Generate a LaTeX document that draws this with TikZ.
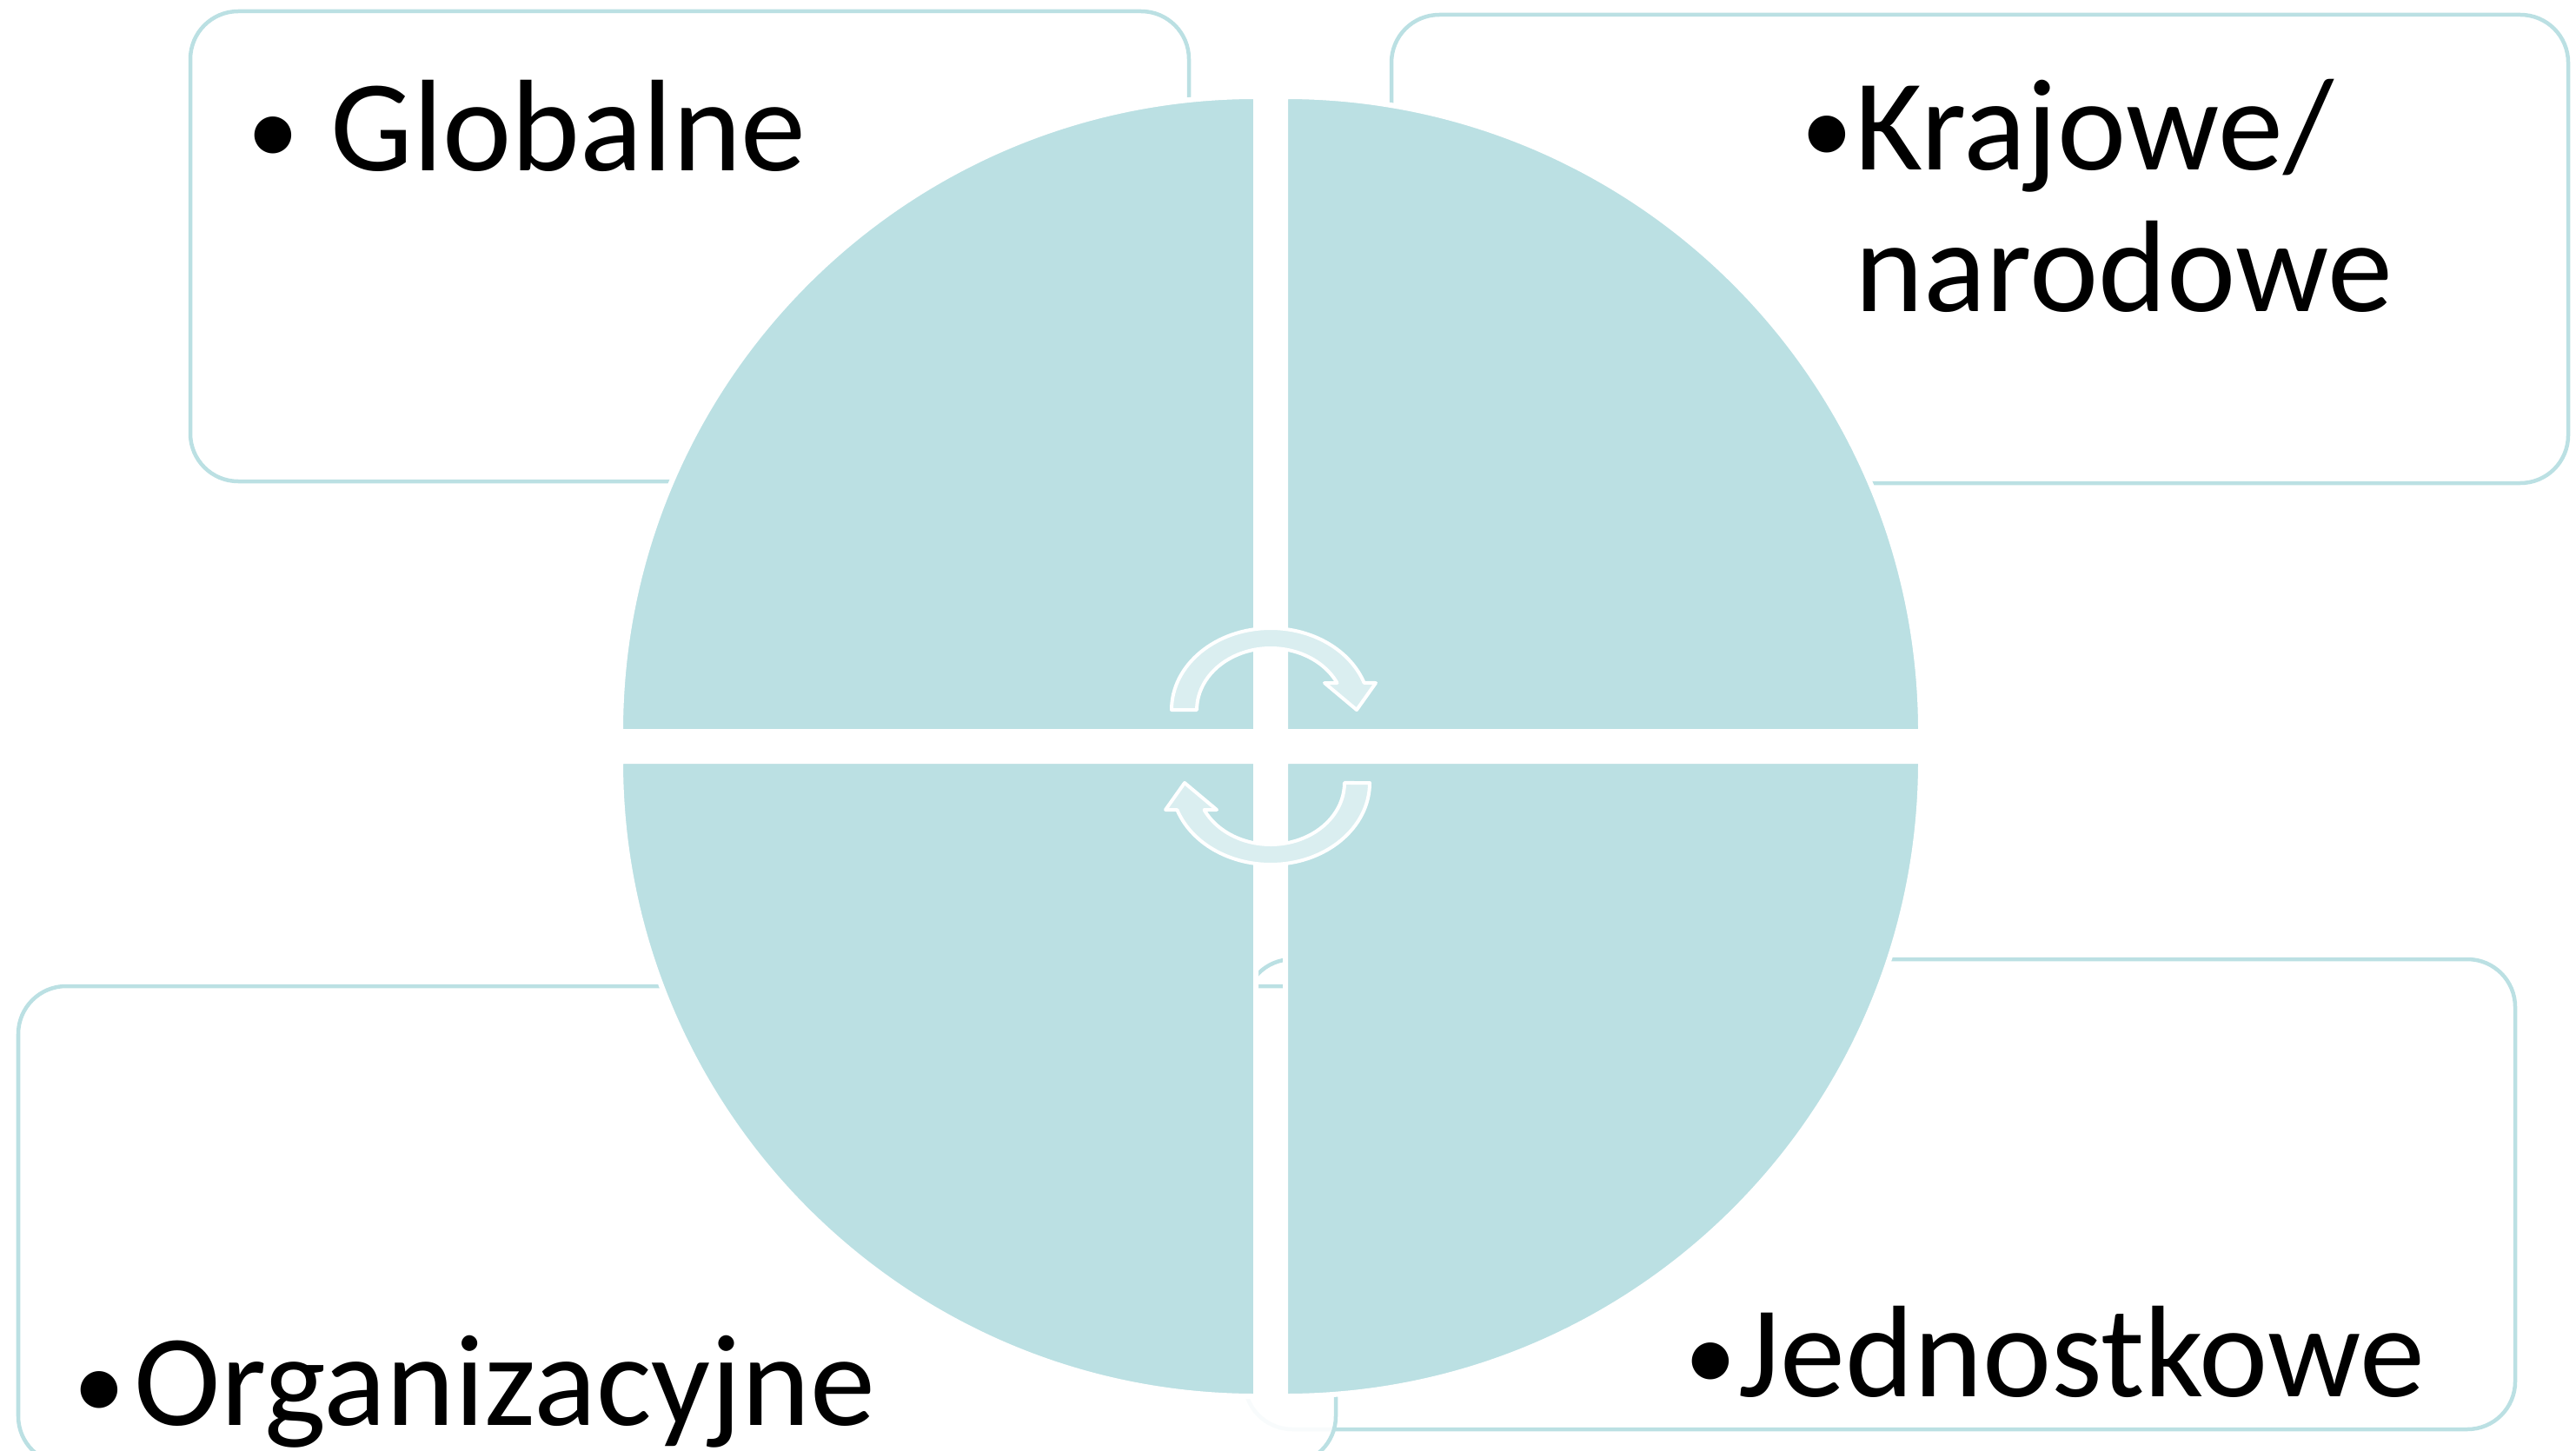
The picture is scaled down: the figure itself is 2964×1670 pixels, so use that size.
\documentclass[tikz,border=0pt]{standalone}
\usepackage{fontspec}
\setmainfont{Carlito}
\usepackage{graphicx}
\usepackage{xcolor}
\definecolor{quadfill}{HTML}{BBE0E3}
\definecolor{arrowfill}{HTML}{DAEEF0}
\definecolor{boxline}{HTML}{BBE0E3}
\newcommand{\bul}{\raisebox{0.07cm}{\scalebox{0.8}{•}}}

\begin{document}
\begin{tikzpicture}[x=0.01cm, y=-0.01cm,
  box/.style={draw=boxline, line width=0.045cm, rounded corners=0.55cm, fill=white},
  quad/.style={fill=quadfill, draw=white, line width=0.06cm},
  cyc/.style={fill=arrowfill, draw=white, line width=0.04cm, line join=round},
  lbl/.style={font=\fontsize{42.7pt}{46.6pt}\selectfont, inner sep=0pt,
              align=left, anchor=base west}]
\useasboundingbox (0,0) rectangle (2964,1670);

% boxes behind the circle
\draw[box] (219,13) rectangle (1368,554);
\draw[box] (1601,17) rectangle (2955,556);
\draw[box] (1432,1104) rectangle (2894,1645);
\draw[box, fill opacity=0.9] (21,1135) rectangle (1537,1685);

% four quarters
\foreach \qx/\qy/\a in {1445/842/180, 1479/842/270, 1479/876/0, 1445/876/90}
  \draw[quad] (\qx,\qy) -- ++(\a:731)
    arc[start angle=\a, end angle=\a+90, radius=731] -- cycle;

% cycle arrows
\foreach \r in {0,180}{
  \begin{scope}[rotate around={\r:(1462,859)}]
    \draw[cyc] (1348,817)
      arc[start angle=180, end angle=340.7, x radius=114, y radius=94]
      -- (1583,786) -- (1561,817) -- (1524,786) -- (1538.5,786)
      arc[start angle=334.1, end angle=180, x radius=85, y radius=71] -- cycle;
  \end{scope}}

% labels (base = last line)
\node[lbl] (glob) at (380,197) {\llap{\bul\kern 0.36cm}Globalne};
\node[lbl] (kraj) at (2134,359) {\llap{\bul\kern 0.02cm}Krajowe/\\narodowe};
\node[lbl] (org) at (154,1640) {\llap{\bul\kern 0.1cm}Organizacyjne};
\node[lbl] (jedn) at (2000,1607) {\llap{\bul\kern 0.02cm}Jednostkowe};

\end{tikzpicture}
\end{document}
